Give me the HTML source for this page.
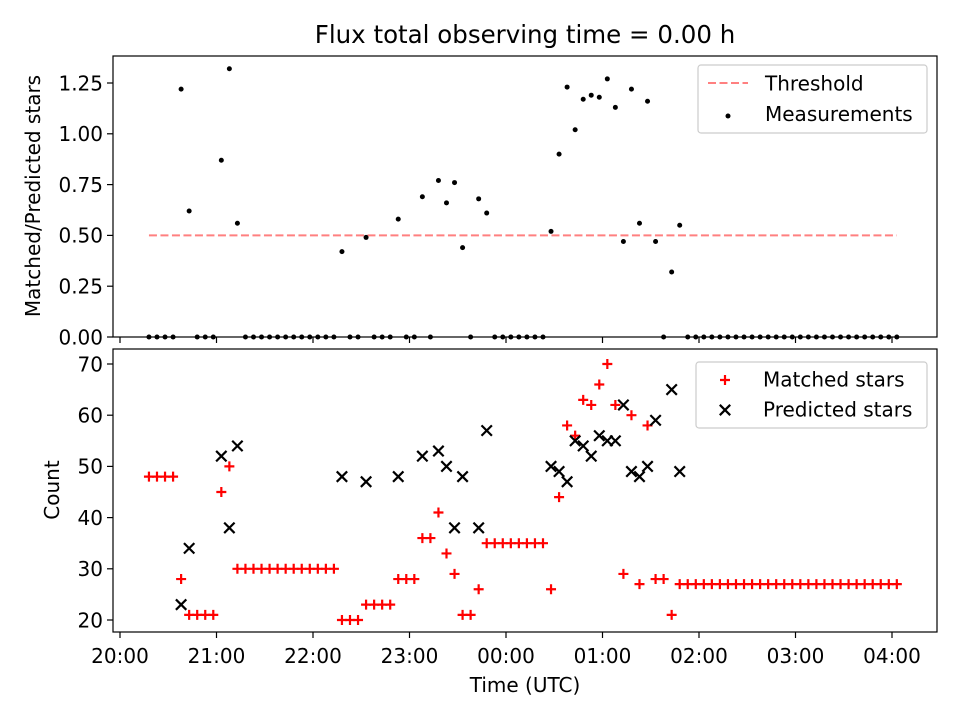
<!DOCTYPE html>
<html><head><meta charset="utf-8"><style>
body{margin:0;background:#fff;}
svg{display:block;font-family:"DejaVu Sans","Liberation Sans",sans-serif;}
</style></head><body>
<svg id="fig" width="960" height="720" viewBox="0 0 960 720">
<rect width="960" height="720" fill="#fff"/>
<text x="525" y="43" font-size="24.5" text-anchor="middle">Flux total observing time = 0.00 h</text>
<g id="topPanel"></g>
<g id="botPanel"></g>
<text x="525" y="692" font-size="20" text-anchor="middle">Time (UTC)</text>
<text transform="translate(40,196) rotate(-90)" font-size="20" text-anchor="middle">Matched/Predicted stars</text>
<text transform="translate(59,490) rotate(-90)" font-size="20" text-anchor="middle">Count</text>
</svg>
<script>
const times=[18,23,28,33,38,43,48,53,58,63,68,73,78,83,88,93,98,103,108,113,118,123,128,133,138,143,148,153,158,163,168,173,178,183,188,193,198,203,208,213,218,223,228,233,238,243,248,253,258,263,268,273,278,283,288,293,298,303,308,313,318,323,328,333,338,343,348,353,358,363,368,373,378,383,388,393,398,403,408,413,418,423,428,433,438,443,448,453,458,463,468,473,478,483];
const matched=[48,48,48,48,28,21,21,21,21,45,50,30,30,30,30,30,30,30,30,30,30,30,30,30,20,20,20,23,23,23,23,28,28,28,36,36,41,33,29,21,21,26,35,35,35,35,35,35,35,35,26,44,58,56,63,62,66,70,62,29,60,27,58,28,28,21,27,27,27,27,27,27,27,27,27,27,27,27,27,27,27,27,27,27,27,27,27,27,27,27,27,27,27,27];
const predicted=[null,null,null,null,23,34,null,null,null,52,38,54,null,null,null,null,null,null,null,null,null,null,null,null,48,null,null,47,null,null,null,48,null,null,52,null,53,50,38,48,null,38,57,null,null,null,null,null,null,null,50,49,47,55,54,52,56,55,55,62,49,48,50,59,null,65,49,null,null,null,null,null,null,null,null,null,null,null,null,null,null,null,null,null,null,null,null,null,null,null,null,null,null,null];
const ratio=[0,0,0,0,1.22,0.62,0,0,0,0.87,1.32,0.56,0,0,0,0,0,0,0,0,0,0,0,0,0.42,0,0,0.49,0,0,0,0.58,0,0,0.69,0,0.77,0.66,0.76,0.44,0,0.68,0.61,0,0,0,0,0,0,0,0.52,0.90,1.23,1.02,1.17,1.19,1.18,1.27,1.13,0.47,1.22,0.56,1.16,0.47,0,0.32,0.55,0,0,0,0,0,0,0,0,0,0,0,0,0,0,0,0,0,0,0,0,0,0,0,0,0,0,0];
const threshold=0.5;
const xTickLabels=["20:00","21:00","22:00","23:00","00:00","01:00","02:00","03:00","04:00"];
const topTicks=[0,0.25,0.5,0.75,1.0,1.25];
const botTicks=[20,30,40,50,60,70];

const NS="http://www.w3.org/2000/svg";
function el(tag,attrs,parent){const e=document.createElementNS(NS,tag);for(const k in attrs)e.setAttribute(k,attrs[k]);parent.appendChild(e);return e;}
const X=t=>120+t*96.5/60;
const YT=v=>337-v*203.2;
const YB=v=>620-(v-20)*5.12;
const L=113,R=937;
const FS=20;
const topG=document.getElementById('topPanel'),botG=document.getElementById('botPanel');

function frame(g,y0,y1,labels,name){
  const f=el('rect',{x:L,y:y0,width:R-L,height:y1-y0,fill:'none',stroke:'#000','stroke-width':1.2},g);
  
  
  xTickLabels.forEach((s,i)=>{
    const x=X(i*60);
    const tk=el('line',{x1:x,x2:x,y1:y1,y2:y1+6,stroke:'#000','stroke-width':1.2},g);
    
    
    if(labels){
      const t=el('text',{x:x,y:y1+31,'font-size':FS,'text-anchor':'middle'},g);
      t.textContent=s;
      
      
    }
  });
}
frame(topG,56,337,false,'top');
frame(botG,349,632,true,'bottom');

topTicks.forEach(v=>{
  const y=YT(v);
  const tk=el('line',{x1:L-6,x2:L,y1:y,y2:y,stroke:'#000','stroke-width':1.2},topG);
  
  
  const t=el('text',{x:L-10,y:y+7.3,'font-size':FS,'text-anchor':'end'},topG);
  t.textContent=v.toFixed(2);
  
  
});
botTicks.forEach(v=>{
  const y=YB(v);
  const tk=el('line',{x1:L-6,x2:L,y1:y,y2:y,stroke:'#000','stroke-width':1.2},botG);
  
  
  const t=el('text',{x:L-10,y:y+7.3,'font-size':FS,'text-anchor':'end'},botG);
  t.textContent=String(v);
  
  
});

const th=el('line',{x1:X(times[0]),x2:X(times[times.length-1]),y1:YT(threshold),y2:YT(threshold),stroke:'#ff8080','stroke-width':2,'stroke-dasharray':'8,3.5'},topG);



ratio.forEach((v,i)=>{
  const c=el('circle',{cx:X(times[i]),cy:YT(v),r:2.5,fill:'#000'},topG);
  
  
});

function plus(g,x,y,color,s){
  return el('path',{d:`M${x-s},${y}H${x+s}M${x},${y-s}V${y+s}`,stroke:color,'stroke-width':2.2,fill:'none'},g);
}
function cross(g,x,y,color,s){
  return el('path',{d:`M${x-s},${y-s}L${x+s},${y+s}M${x-s},${y+s}L${x+s},${y-s}`,stroke:color,'stroke-width':2.2,fill:'none'},g);
}
matched.forEach((v,i)=>{
  const p=plus(botG,X(times[i]),YB(v),'#ff0000',5);
  
  
});
predicted.forEach((v,i)=>{
  if(v===null)return;
  const p=cross(botG,X(times[i]),YB(v),'#000',5.2);
  
  
});

const lg1=el('g',{},topG);


el('rect',{x:698,y:65,width:229,height:68,rx:3,fill:'#fff',stroke:'#ccc','stroke-width':1.2},lg1);
el('line',{x1:708,x2:748,y1:83,y2:83,stroke:'#ff8080','stroke-width':2,'stroke-dasharray':'8,3.5'},lg1);
let t=el('text',{x:765,y:90.5,'font-size':FS},lg1);t.textContent='Threshold';
el('circle',{cx:728,cy:116,r:2.5,fill:'#000'},lg1);
t=el('text',{x:765,y:121,'font-size':FS},lg1);t.textContent='Measurements';

const lg2=el('g',{},botG);


el('rect',{x:696,y:362,width:231,height:66,rx:3,fill:'#fff',stroke:'#ccc','stroke-width':1.2},lg2);
plus(lg2,725,380,'#ff0000',5);
t=el('text',{x:763,y:386.5,'font-size':FS},lg2);t.textContent='Matched stars';
cross(lg2,725,410,'#000',5.2);
t=el('text',{x:763,y:416.5,'font-size':FS},lg2);t.textContent='Predicted stars';
</script>
</body></html>
